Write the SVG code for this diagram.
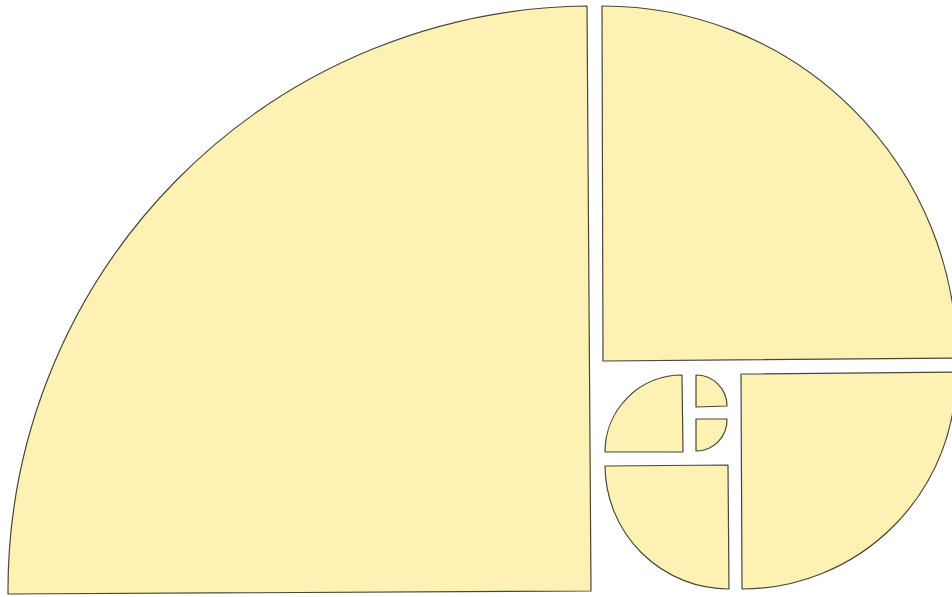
<svg xmlns="http://www.w3.org/2000/svg" width="952" height="597" viewBox="0 0 952 597">
<style>
.p{fill:#fdf1b3;stroke:#4a4638;stroke-width:1.2;stroke-linejoin:round}
</style>
<rect width="952" height="597" fill="#ffffff"/>
<g id="piece-a"><path class="p" d="M 587,6 L 591,591 L 8,594 A 585,585 0 0 1 587,6 Z"/></g>
<g id="piece-b"><path class="p" d="M 602,6 A 354,354 0 0 1 957,358 L 603,361 Z"/></g>
<g id="piece-c"><path class="p" d="M 741,374 L 956,372 A 214,214 0 0 1 742,589 Z"/></g>
<g id="piece-d"><path class="p" d="M 605,466 L 728,465 L 729,589 A 124,124 0 0 1 605,466 Z"/></g>
<g id="piece-e"><path class="p" d="M 605,452 A 77,77 0 0 1 682,375 L 683,452 Z"/></g>
<g id="piece-f"><path class="p" d="M 696,375 A 31,31 0 0 1 727,406 L 696,407 Z"/></g>
<g id="piece-g"><path class="p" d="M 696,419 L 727,419 A 31,31 0 0 1 696,451 Z"/></g>
<g id="connectors"></g>
</svg>
